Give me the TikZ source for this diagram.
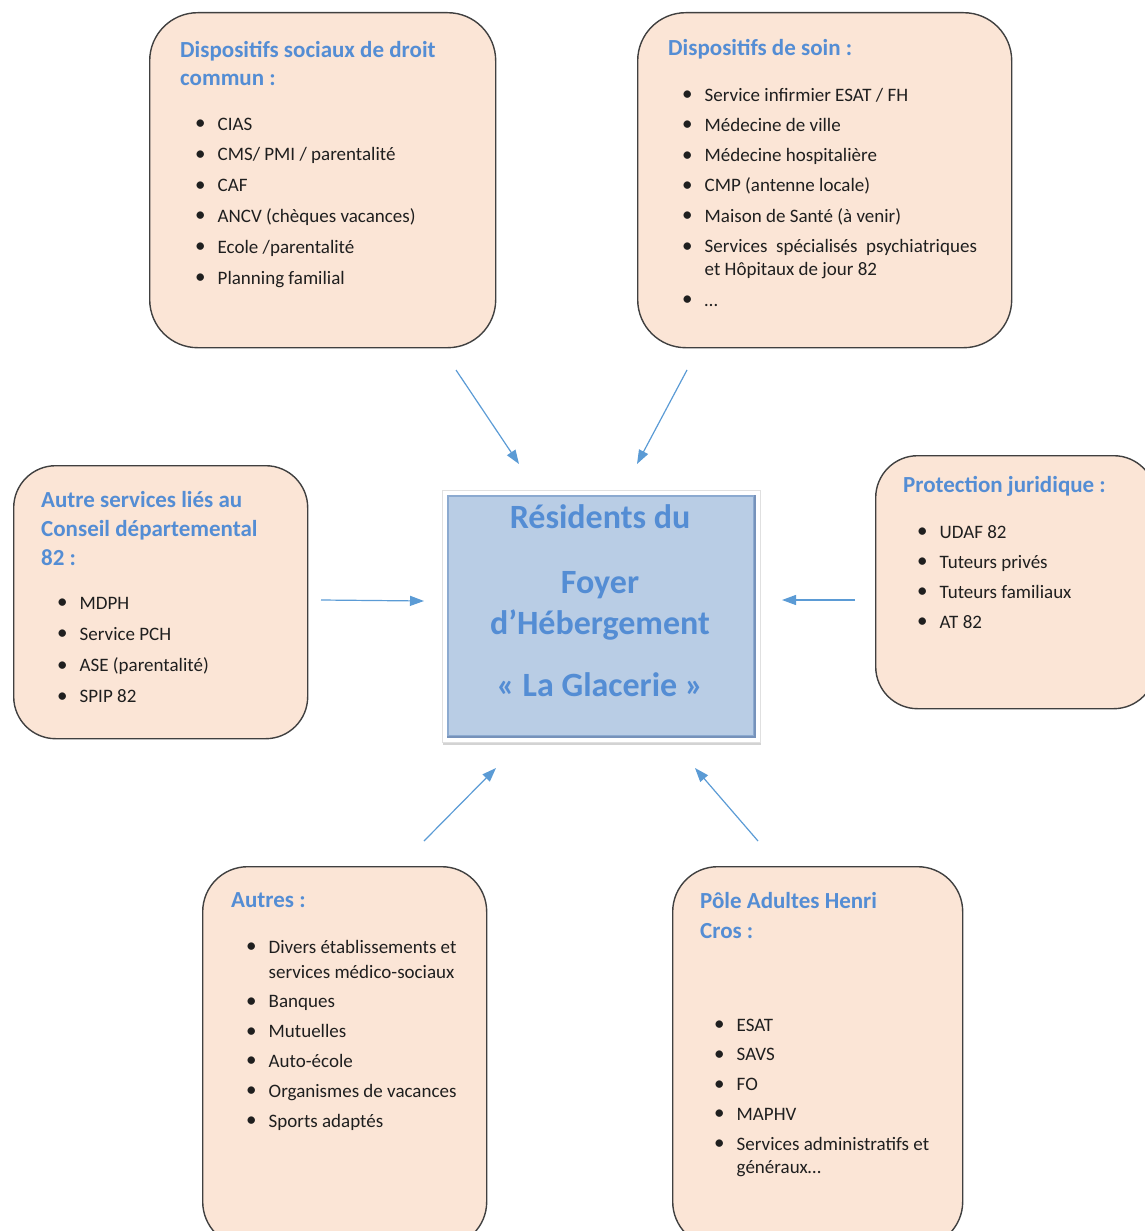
\documentclass[tikz,border=0pt]{standalone}
\usepackage{fontspec}
\setmainfont{Carlito}
\usetikzlibrary{arrows.meta,shadows}
\definecolor{boxfill}{RGB}{251,229,214}
\definecolor{boxline}{RGB}{64,64,64}
\definecolor{titleblue}{RGB}{84,141,212}
\definecolor{arrowblue}{RGB}{91,155,213}
\definecolor{centerfill}{RGB}{185,205,229}
\definecolor{centeredge}{RGB}{140,170,208}
\definecolor{centerdark}{RGB}{118,146,186}
\newcommand\itm[1]{\makebox[22.5pt][l]{\raisebox{0.5pt}{\fontsize{21}{21}\selectfont •}}#1}
\newcommand\cnt[1]{\hspace*{22.5pt}#1}
\newcommand\lst[1]{\begin{tabular}[t]{@{}l@{}}#1\end{tabular}}
\tikzset{
  infobox/.style={draw=boxline, line width=1.4pt, fill=boxfill, anchor=north west, inner sep=0pt},
  titletext/.style={anchor=base west, inner sep=0pt, text=titleblue, font=\fontsize{23}{29}\selectfont\bfseries},
  listtext/.style={anchor=base west, inner sep=0pt, text=black!88, font=\fontsize{19}{30.5}\selectfont},
  arr/.style={draw=arrowblue, line width=1.2pt, -{Triangle[length=14pt,width=10pt]}},
}
\begin{document}
\begin{tikzpicture}[x=1pt,y=-1pt]
\useasboundingbox (0,0) rectangle (1145,1231);
% boxes
\node[infobox, rounded corners=48pt, minimum width=346pt, minimum height=335pt] (b1) at (149,12) {};
\node[infobox, rounded corners=48pt, minimum width=374pt, minimum height=335pt] (b2) at (637,12) {};
\node[infobox, rounded corners=42pt, minimum width=294pt, minimum height=273pt] (b3) at (13,465) {};
\node[infobox, rounded corners=42pt, minimum width=280pt, minimum height=253pt] (b4) at (875,455) {};
\node[infobox, rounded corners=45pt, minimum width=284pt, minimum height=380pt] (b5) at (202,866) {};
\node[infobox, rounded corners=45pt, minimum width=290pt, minimum height=380pt] (b6) at (672,866) {};
% center
\node[fill=white, draw=black!12, line width=0.6pt, minimum width=318pt, minimum height=252pt,
      drop shadow={opacity=0.35, shadow xshift=1pt, shadow yshift=-3pt}] (cframe) at (601,616) {};
\node[fill=centerfill, draw=centeredge, line width=1.6pt, minimum width=306pt, minimum height=240pt] (cbox) at (601,616) {};
\draw[centerdark, line width=2pt] (cbox.south west) -- (cbox.south east) -- (cbox.north east);
\node[anchor=base, inner sep=0pt, text=titleblue, font=\fontsize{34}{41}\selectfont\bfseries] (ctext) at (600,528)
  {\begin{tabular}[t]{@{}c@{}}Résidents du\\[24pt] Foyer\\ d’Hébergement\\[21pt] « La Glacerie »\end{tabular}};
% box 1
\node[titletext, font=\fontsize{23}{28}\selectfont\bfseries] (t1) at (180,58) {\lst{Dispositifs sociaux de droit\\ commun :}};
\node[listtext, font=\fontsize{19}{30.8}\selectfont] (l1) at (195,130) {\lst{\itm{CIAS}\\ \itm{CMS/ PMI / parentalité}\\ \itm{CAF}\\ \itm{ANCV (chèques vacances)}\\ \itm{Ecole /parentalité}\\ \itm{Planning familial}}};
% box 2
\node[titletext] (t2) at (668,56) {\lst{Dispositifs de soin :}};
\node[listtext, font=\fontsize{19}{30.3}\selectfont] (l2) at (682,101) {\lst{\itm{Service infirmier ESAT / FH}\\ \itm{Médecine de ville}\\ \itm{Médecine hospitalière}\\ \itm{CMP (antenne locale)}\\ \itm{Maison de Santé (à venir)}\\ \itm{Services\ \ spécialisés\ \ psychiatriques}\\[-7pt] \cnt{et Hôpitaux de jour 82}\\ \itm{…}}};
% box 3
\node[titletext] (t3) at (41,507) {\lst{Autre services liés au\\ Conseil départemental\\ 82 :}};
\node[listtext, font=\fontsize{19}{31.3}\selectfont] (l3) at (57,609) {\lst{\itm{MDPH}\\ \itm{Service PCH}\\ \itm{ASE (parentalité)}\\ \itm{SPIP 82}}};
% box 4
\node[titletext] (t4) at (903,492) {\lst{Protection juridique :}};
\node[listtext, font=\fontsize{19}{30}\selectfont] (l4) at (917,538) {\lst{\itm{UDAF 82}\\ \itm{Tuteurs privés}\\ \itm{Tuteurs familiaux}\\ \itm{AT 82}}};
% box 5
\node[titletext] (t5) at (231,907) {\lst{Autres :}};
\node[listtext, font=\fontsize{19}{29.8}\selectfont] (l5) at (246,953) {\lst{\itm{Divers établissements et}\\[-4.8pt] \cnt{services médico-sociaux}\\ \itm{Banques}\\ \itm{Mutuelles}\\ \itm{Auto-école}\\ \itm{Organismes de vacances}\\ \itm{Sports adaptés}}};
% box 6
\node[titletext, font=\fontsize{23}{30}\selectfont\bfseries] (t6) at (700,908) {\lst{Pôle Adultes Henri\\ Cros :}};
\node[listtext, font=\fontsize{19}{29.8}\selectfont] (l6) at (714,1031) {\lst{\itm{ESAT}\\ \itm{SAVS}\\ \itm{FO}\\ \itm{MAPHV}\\ \itm{Services administratifs et}\\[-6.8pt] \cnt{généraux…}}};
% arrow ends
\coordinate (a1s) at (456,370); \coordinate (a1e) at (519,464);
\coordinate (a2s) at (687,370); \coordinate (a2e) at (637,464);
\coordinate (a3s) at (321,600); \coordinate (a3e) at (424,601);
\coordinate (a4s) at (855,600); \coordinate (a4e) at (782,600);
\coordinate (a5s) at (424,841); \coordinate (a5e) at (496,768);
\coordinate (a6s) at (758,841); \coordinate (a6e) at (695,768);
\draw[arr] (a1s) -- (a1e);
\draw[arr] (a2s) -- (a2e);
\draw[arr] (a3s) -- (a3e);
\draw[arr] (a4s) -- (a4e);
\draw[arr] (a5s) -- (a5e);
\draw[arr] (a6s) -- (a6e);
\end{tikzpicture}
\end{document}
